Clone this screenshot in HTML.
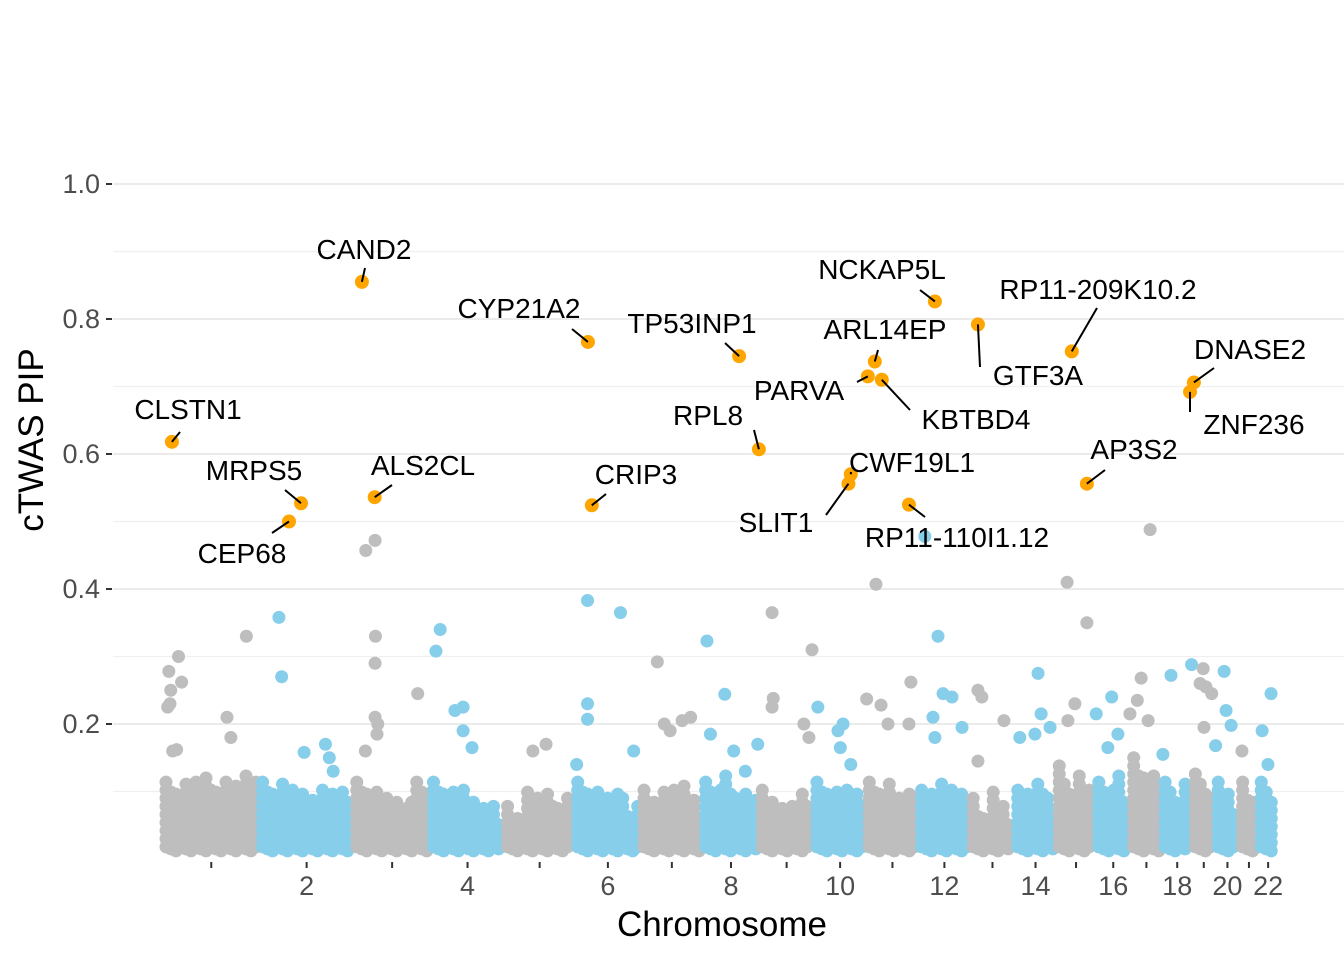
<!DOCTYPE html>
<html><head><meta charset="utf-8">
<style>
html,body{margin:0;padding:0;background:#fff;}
svg text{font-family:"Liberation Sans",Arial,sans-serif;}
</style></head>
<body>
<svg id="chart" width="1344" height="960" viewBox="0 0 1344 960" xmlns="http://www.w3.org/2000/svg">
<rect width="1344" height="960" fill="#fff"/>
<g id="grid"></g>
<g id="yaxis"></g>
<g id="xaxis"></g>
<g id="cloud"></g>
<g id="pts"></g>
<g id="labels"></g>
<text x="0" y="0" transform="translate(43,440) rotate(-90)" text-anchor="middle" font-size="35" fill="#000">cTWAS PIP</text>
<text x="722" y="936" text-anchor="middle" font-size="35" fill="#000">Chromosome</text>
</svg>
<script>
const chromLengths=[249,243,198,191,181,171,159,146,141,135,135,133,115,107,102,90,81,78,59,63,48,51];
const cloudProfile=[[0.12,0.13,0.12,0.13],[0.12,0.11,0.1,0.11],[0.12,0.1,0.09,0.12],[0.12,0.11,0.09,0.08],[0.08,0.1,0.1,0.09],[0.12,0.1,0.11,0.08],[0.1,0.11,0.12,0.1],[0.12,0.13,0.1,0.1],[0.1,0.08,0.09,0.1],[0.12,0.11,0.12,0.1],[0.12,0.12,0.1,0.11],[0.11,0.12,0.12,0.1],[0.09,0.08,0.1,0.09],[0.1,0.11,0.12,0.1],[0.14,0.12,0.13,0.12],[0.12,0.1,0.13,0.11],[0.15,0.14,0.15,0.13],[0.12,0.1,0.1,0.12],[0.13,0.14,0.12,0.12],[0.12,0.1,0.11,0.1],[0.12,0.11,0.1,0.1],[0.12,0.12,0.1,0.09]];
const yTicks=[0.2,0.4,0.6,0.8,1.0];
const yMinor=[0.1,0.3,0.5,0.7,0.9];
const xTickLabels=["","2","","4","","6","","8","","10","","12","","14","","16","","18","","20","","22"];
const ptChrom=[1,1,1,1,1,1,1,1,1,1,1, 2,2,2,2,2,2, 3,3,3,3,3,3,3,3,3, 4,4,4,4,4,4, 5,5, 6,6,6,6,6,6, 7,7,7,7,7, 8,8,8,8,8,8, 9,9,9,9,9,9, 10,10,10,10,10, 11,11,11,11,11,11, 12,12,12,12,12,12,12, 13,13,13,13, 14,14,14,14,14, 15,15,15,15, 16,16,16,16, 17,17,17,17,17, 18,18, 18,19,19,19,19, 20,19,20,20,20, 21, 22,22,22];
const ptPos=[15,40,48,20,12,18,215,165,25,35,175, 50,57,115,170,180,190, 31,55,56,55,55,62,60,30,165, 25,14,63,84,84,107, 73,107, 33,118,33,33,152,5, 42,60,106,128,75, 11,57,20,80,142,110, 33,36,33,136,115,128, 10,75,62,68,95, 25,1,38,56,115,110, 16,50,63,86,37,42,112, 20,30,87,20, 60,68,91,52,13, 28,79,48,30, 41,1,57,31, 50,27,17,-2,45, 23,2, 76,28,20,35,30, 23,50,28,41,1, 6, 33,10,25];
const ptPip=[0.278,0.30,0.262,0.25,0.225,0.23,0.33,0.21,0.16,0.162,0.18, 0.358,0.27,0.158,0.17,0.15,0.13, 0.457,0.472,0.33,0.29,0.21,0.2,0.185,0.16,0.245, 0.34,0.308,0.22,0.225,0.19,0.165, 0.16,0.17, 0.383,0.365,0.23,0.207,0.16,0.14, 0.292,0.2,0.205,0.21,0.19, 0.323,0.244,0.185,0.16,0.17,0.13, 0.365,0.238,0.225,0.31,0.2,0.18, 0.225,0.2,0.19,0.165,0.14, 0.407,0.237,0.228,0.2,0.262,0.2, 0.478,0.33,0.245,0.24,0.21,0.18,0.195, 0.25,0.24,0.205,0.145, 0.275,0.215,0.195,0.185,0.18, 0.41,0.35,0.23,0.205, 0.24,0.215,0.185,0.165, 0.488,0.268,0.235,0.215,0.205, 0.272,0.155, 0.288,0.282,0.26,0.255,0.195, 0.278,0.245,0.22,0.198,0.168, 0.16, 0.245,0.19,0.14];
const geneNames=["CLSTN1","MRPS5","CEP68","CAND2","ALS2CL","CYP21A2","CRIP3","TP53INP1","RPL8","NCKAP5L","ARL14EP","PARVA","KBTBD4","CWF19L1","SLIT1","RP11-110I1.12","GTF3A","RP11-209K10.2","AP3S2","DNASE2","ZNF236"];
const geneChrom=[1,2,2,3,3,6,6,8,8,12,11,11,11,10,10,11,13,15,15,19,18];
const genePos=[23,107,76,21,54,34,44,94,145,42,22,4,40,95,89,110,20,40,79,4,72];
const genePip=[0.618,0.527,0.5,0.855,0.536,0.766,0.524,0.745,0.607,0.826,0.737,0.715,0.71,0.57,0.556,0.525,0.792,0.752,0.556,0.706,0.692];
const labelLayout=[[188,419,180,432],[254,480,285,490],[242,563,272,533],[364,259,365,268],[423,475,392,485],[519,318,572,329],[636,484,606,494],[692,333,725,343],[708,425,754,430],[882,279,920,290],[885,339,878,350],[799,400,857,382],[976,429,910,410],[912,472,851,472],[776,532,826,515],[957,547,925,517],[1038,385,980,367],[1098,299,1097,308],[1134,459,1105,470],[1250,359,1214,368],[1254,434,1190,412]];

const NS="http://www.w3.org/2000/svg";
const X0=163, PXPERMB=0.3877, Y0=859, PXPERUNIT=675;
const cum=[];let acc=0;for(const l of chromLengths){cum.push(acc);acc+=l;}
function xs(c,p){return X0+(cum[c-1]+p)*PXPERMB;}
function ys(v){return Y0-v*PXPERUNIT;}
function mk(tag,attrs,parent){const e=document.createElementNS(NS,tag);for(const k in attrs)e.setAttribute(k,attrs[k]);parent.appendChild(e);return e;}
const GRAY="#BEBEBE",BLUE="#87CEEB",ORANGE="#FFA500";
const grid=document.getElementById('grid'),yax=document.getElementById('yaxis'),xax=document.getElementById('xaxis');
for(const v of yMinor){const l=mk('line',{x1:113,x2:1344,y1:ys(v),y2:ys(v),stroke:'#f0f0f0','stroke-width':1.2},grid);

}
for(const v of yTicks){const l=mk('line',{x1:113,x2:1344,y1:ys(v),y2:ys(v),stroke:'#ebebeb','stroke-width':2},grid);


const t=mk('line',{x1:106,x2:112,y1:ys(v),y2:ys(v),stroke:'#333','stroke-width':2},yax);


const tx=mk('text',{x:100,y:ys(v)+9,'text-anchor':'end','font-size':27,fill:'#4d4d4d'},yax);tx.textContent=v.toFixed(1);

}
const cloud=document.getElementById('cloud');
for(let c=1;c<=22;c++){
 const mid=xs(c,chromLengths[c-1]/2);
 const t=mk('line',{x1:mid,x2:mid,y1:862,y2:868,stroke:'#333','stroke-width':2},xax);
 
 
 if(xTickLabels[c-1]){const tx=mk('text',{x:mid,y:895,'text-anchor':'middle','font-size':27,fill:'#4d4d4d'},xax);tx.textContent=xTickLabels[c-1];
 
 }
 const col=c%2?GRAY:BLUE;
 const x1=xs(c,0)+3,x2=xs(c,chromLengths[c-1])-3;
 const prof=cloudProfile[c-1];
 let i=0;
 for(let x=x1;x<=x2+0.1;x+=5){
  const seg=Math.min(3,Math.floor((x-x1)/(x2-x1+1)*4));
  const top=prof[seg]-[0,0.02,0.01,0.03][i%4];
  for(let v=0.015;v<=top;v+=0.012){
   const yy=ys(v)+((i%3)-1)*2;
   const d=mk('circle',{cx:x,cy:yy,r:6.5,fill:col},cloud);
   
   
  }
  i++;
 }
}
const pts=document.getElementById('pts');
for(let i=0;i<ptChrom.length;i++){
 const c=ptChrom[i];
 const d=mk('circle',{cx:xs(c,ptPos[i]),cy:ys(ptPip[i]),r:6.5,fill:c%2?GRAY:BLUE},pts);
 
 
}
const lab=document.getElementById('labels');
for(let i=0;i<geneNames.length;i++){
 const px=xs(geneChrom[i],genePos[i]),py=ys(genePip[i]);
 const L=labelLayout[i];
 const ln=mk('line',{x1:L[2],y1:L[3],x2:px,y2:py,stroke:'#000','stroke-width':2},lab);
 
 
 const d=mk('circle',{cx:px,cy:py,r:7,fill:ORANGE},pts);
 
 
 const t=mk('text',{x:L[0],y:L[1],'text-anchor':'middle','font-size':28,fill:'#000'},lab);
 t.textContent=geneNames[i];
 
 
}
</script>
</body></html>
